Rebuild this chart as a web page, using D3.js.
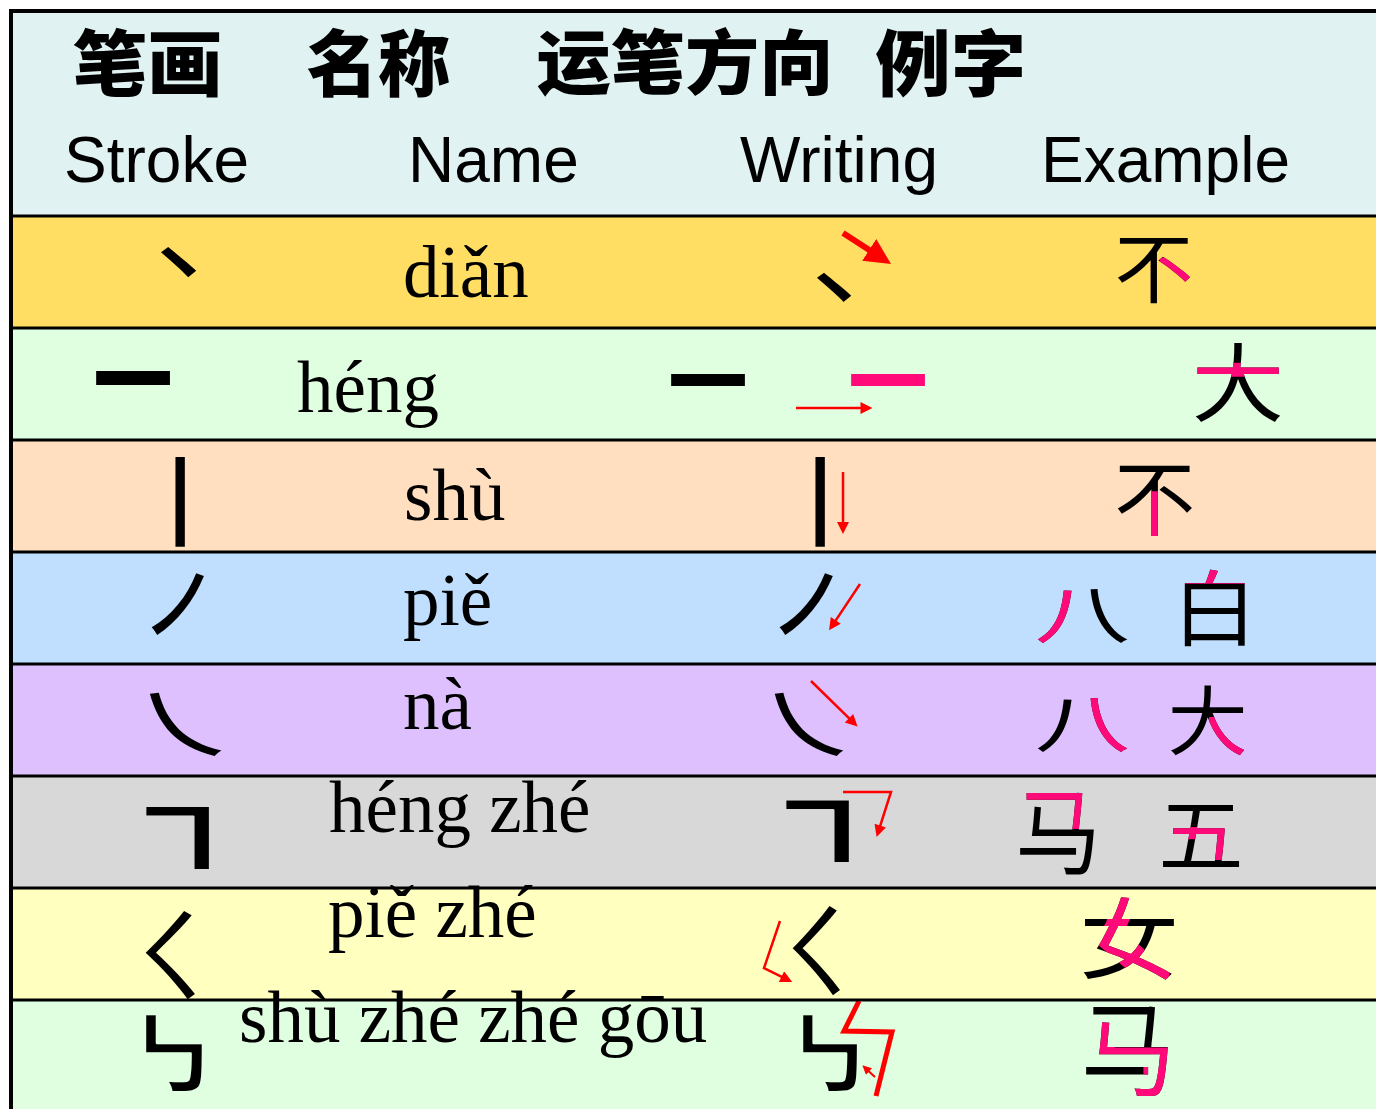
<!DOCTYPE html>
<html><head><meta charset="utf-8">
<script src="https://cdn.jsdelivr.net/npm/d3@7"></script>
<style>html,body{margin:0;padding:0;background:#fff;}svg{display:block}</style>
</head><body>
<svg id="chart" width="1376" height="1109"></svg>
<script>
// ---------------- DATA ----------------
const headersZh = ["笔画", "名称", "运笔方向", "例字"];
const headersEn = ["Stroke", "Name", "Writing", "Example"];
const strokeKeys = ["D", "H", "S", "P", "N", "HZ", "PZ", "SZZG"];
const strokeGlyphs = ["㇔", "㇐", "㇑", "㇒", "㇏", "㇕", "㇛", "㇉"];
const pinyinNames = ["diǎn", "héng", "shù", "piě", "nà", "héng zhé", "piě zhé", "shù zhé zhé gōu"];
const exampleChars = [["不"], ["大"], ["不"], ["八", "白"], ["八", "大"], ["马", "五"], ["女"], ["马"]];
const rowColors = ["#FFDE63", "#E0FEE0", "#FFDFC0", "#C0DFFE", "#DFC0FE", "#D8D8D8", "#FFFFC0", "#E0FEE0"];

// ---------------- LAYOUT / STYLE ----------------
const W = 1376, H = 1109;
const CJK = '"Noto Sans CJK SC"';
const headerBg = "#E1F2F3";
const pink = "#FF0A78";
const red = "#FF0000";
const strokeWeights = [700, 700, 400, 400, 400, 700, 400, 700];
const strokeThin = [0, 0, 0, 0, 0, 2.5, 0, 2.5];   // erosion (px) to thin the heavier stroke glyphs
const layout = {
  zhBox: [[74, 219, 28, 97], [308, 449, 28, 97], [538, 828, 28, 97], [876, 1022, 28, 97]],
  enX: [64, 408, 740, 1041], enBase: 182, enSize: 64,
  strokeBox: [[161,196,31,61],[96,170,44,58],[175,185,17,107],[152,204,22,84],[150,221,28,91],[146,209,31,93],[146,195,23,111],[146,202,16,91]],
  writeBox: [[817,851,56,85],[671,745,46,58],[815,825,17,107],[780,833,22,84],[775,843,28,91],[786,849,25,86],[793,840,18,107],[803,857,16,91]],
  pinkBar: {row: 1, box: [851, 925, 46, 58]},
  nameX: [403, 297, 404, 403, 403, 329, 328, 239],
  nameBase: [81, 84, 80, 73, 65, 56, 49, 42],
  exBox: [[[1118,1190,22,87]],[[1196,1280,16,94]],[[1118,1192,26,96]],[[1038,1127,37,91],[1185,1245,18,94]],
          [[1038,1127,34,88],[1171,1244,22,91]],[[1020,1094,17,99],[1163,1239,29,90]],[[1084,1174,9,91]],[[1086,1168,7,97]]]
};
const guides = [
  {row:0, pts:[[843,17],[891,48]], w:6, head:[26,26]},
  {row:1, pts:[[796,80],[875,80]], w:2.5, head:[17,12]},
  {row:2, pts:[[843,32],[843,96]], w:2.5, head:[16,12]},
  {row:3, pts:[[860,32],[828,80]], w:2.5, head:[16,12]},
  {row:4, pts:[[811,17],[859,64]], w:2.5, head:[16,12]},
  {row:5, pts:[[843,16],[891,16],[876,63]], w:2.5, head:[16,12]},
  {row:6, pts:[[780,33],[764,80],[794,95]], w:2.5, head:[16,12]},
  {row:7, pts:[[859,1],[844,31],[892,32],[876,96]], w:5, head:null},
  {row:7, pts:[[875,77],[862,65]], w:2, head:[10,9]}
];
const clipShapes = {
  "不D": [[0.58,0.3],[1,0.3],[1,1],[0.58,1]],
  "大H": [[0,0.24],[1,0.24],[1,0.42],[0,0.42]],
  "不S": [[0.42,0.36],[0.6,0.36],[0.6,1],[0.42,1]],
  "八P": [[0,0],[0.45,0],[0.45,1],[0,1]],
  "白P": [[0,0],[1,0],[1,0.18],[0,0.18]],
  "八N": [[0.45,0],[1,0],[1,1],[0.45,1]],
  "大N": [[0.52,0.45],[1,0.45],[1,1],[0.52,1]],
  "马HZ": [[0,0],[0.9,0],[0.9,0.44],[0.55,0.44],[0.55,0.17],[0,0.17]],
  "五HZ": [[0.12,0.36],[0.92,0.36],[0.92,0.9],[0.68,0.9],[0.68,0.56],[0.12,0.56]],
  "女PZ": [[0.3,0],[0.62,0],[0.45,0.42],[0.95,0.92],[0.95,1],[0.6,1],[0.12,0.55],[0.25,0.3]],
  "马SZZG": [[0.05,0.17],[0.35,0.17],[0.35,0.45],[1,0.45],[1,1],[0.45,1],[0.45,0.85],[0.7,0.85],[0.7,0.64],[0.05,0.64]]
};

// ---------------- DRAWING ----------------
const svg = d3.select("#chart");
const defs = svg.append("defs");
const y = d3.scaleBand().domain(strokeKeys).range([216, 1112]);

const cv = document.createElement("canvas");
cv.width = 1700; cv.height = 420;
const ctx = cv.getContext("2d", {willReadFrequently: true});
function ink(text, weight, family, size) {
  ctx.clearRect(0, 0, cv.width, cv.height);
  ctx.font = `${weight} ${size}px ${family}`;
  ctx.fillStyle = "#000"; ctx.textBaseline = "alphabetic"; ctx.textAlign = "left";
  const ox = 20, oy = 300;
  ctx.fillText(text, ox, oy);
  const d = ctx.getImageData(0, 0, cv.width, cv.height).data;
  let x0 = 1e9, x1 = -1, y0 = 1e9, y1 = -1;
  for (let yy = 0; yy < cv.height; yy++) {
    for (let xx = 0; xx < cv.width; xx++) {
      if (d[(yy * cv.width + xx) * 4 + 3] > 90) {
        if (xx < x0) x0 = xx; if (xx > x1) x1 = xx;
        if (yy < y0) y0 = yy; if (yy > y1) y1 = yy;
      }
    }
  }
  if (x1 < 0) return {x0: 0, x1: size, y0: -0.88 * size, y1: 0.12 * size};
  return {x0: x0 - ox, x1: x1 + 1 - ox, y0: y0 - oy, y1: y1 + 1 - oy};
}
function fitText(g, text, box, opt) {
  const size = 200, weight = opt.weight || 400, family = opt.family || CJK;
  const b = ink(text, weight, family, size);
  const e = (opt.erode || 0) / 2;
  const sx = (box[1] - box[0] + 2 * e) / (b.x1 - b.x0), sy = (box[3] - box[2] + 2 * e) / (b.y1 - b.y0);
  const tx = box[0] - e - b.x0 * sx, ty = box[2] - e - b.y0 * sy;
  const t = g.append("text")
    .attr("transform", `translate(${tx},${ty}) scale(${sx},${sy})`)
    .attr("font-family", family + ", sans-serif")
    .attr("font-size", size).attr("font-weight", weight)
    .attr("fill", opt.fill || "#000").text(text);
  if (opt.erode) {
    t.attr("stroke", opt.bg).attr("stroke-width", opt.erode)
      .attr("vector-effect", "non-scaling-stroke").attr("stroke-linejoin", "round")
      .style("paint-order", "fill stroke");
  }
  return t;
}

// backgrounds
svg.append("rect").attr("x", 0).attr("y", 0).attr("width", W).attr("height", H).attr("fill", "#fff");
svg.append("rect").attr("x", 11).attr("y", 11).attr("width", W - 11).attr("height", 216 - 11).attr("fill", headerBg);
svg.selectAll("rect.row").data(strokeKeys).join("rect").attr("class", "row")
  .attr("x", 11).attr("y", d => y(d)).attr("width", W - 11).attr("height", y.bandwidth())
  .attr("fill", (d, i) => rowColors[i]);

// header
const hg = svg.append("g");
headersZh.forEach((t, i) => fitText(hg, t, layout.zhBox[i], {weight: 900}));
hg.selectAll("text.en").data(headersEn).join("text").attr("class", "en")
  .attr("x", (d, i) => layout.enX[i]).attr("y", layout.enBase)
  .attr("font-family", '"Liberation Sans", Arial, sans-serif').attr("font-size", layout.enSize).attr("fill", "#000")
  .text(d => d);

// rows
const rg = svg.append("g");
strokeKeys.forEach((k, i) => {
  const top = y(k);
  const g = rg.append("g");
  const sOpt = {weight: strokeWeights[i], erode: strokeThin[i], bg: rowColors[i]};
  const sb = layout.strokeBox[i];
  fitText(g, strokeGlyphs[i], [sb[0], sb[1], top + sb[2], top + sb[3]], sOpt);
  const wb = layout.writeBox[i];
  fitText(g, strokeGlyphs[i], [wb[0], wb[1], top + wb[2], top + wb[3]], sOpt);
  if (layout.pinkBar.row === i) {
    const pb = layout.pinkBar.box;
    fitText(g, strokeGlyphs[i], [pb[0], pb[1], top + pb[2], top + pb[3]], {weight: strokeWeights[i], fill: pink});
  }
  g.append("text").attr("x", layout.nameX[i]).attr("y", top + layout.nameBase[i])
    .attr("font-family", '"Liberation Serif", "Times New Roman", serif').attr("font-size", 73)
    .attr("fill", "#000").text(pinyinNames[i]);
  exampleChars[i].forEach((ch, j) => {
    const eb = layout.exBox[i][j];
    const box = [eb[0], eb[1], top + eb[2], top + eb[3]];
    fitText(g, ch, box, {weight: 400});
    const poly = clipShapes[ch + k];
    if (poly) {
      const id = `clip${i}_${j}`;
      defs.append("clipPath").attr("id", id).attr("clipPathUnits", "userSpaceOnUse")
        .append("polygon").attr("points", poly.map(p => [box[0] + p[0] * (box[1] - box[0]), box[2] + p[1] * (box[3] - box[2])].join(",")).join(" "));
      const pg = g.append("g").attr("clip-path", `url(#${id})`);
      fitText(pg, ch, box, {weight: 400, fill: pink});
    }
  });
});

// guide arrows
const line = d3.line();
guides.forEach((gd, n) => {
  const top = y(strokeKeys[gd.row]);
  const pts = gd.pts.map(p => [p[0], top + p[1]]);
  let id = null;
  if (gd.head) {
    const [hl, hw] = gd.head;
    const a = pts[pts.length - 2], b = pts[pts.length - 1];
    const L = Math.hypot(b[0] - a[0], b[1] - a[1]);
    const ux = (b[0] - a[0]) / L, uy = (b[1] - a[1]) / L;
    pts[pts.length - 1] = [b[0] - ux * hl * 0.5, b[1] - uy * hl * 0.5];
    id = `arrow${n}`;
    defs.append("marker").attr("id", id).attr("viewBox", "0 0 10 10")
      .attr("refX", 5).attr("refY", 5).attr("markerUnits", "userSpaceOnUse")
      .attr("markerWidth", hl).attr("markerHeight", hw).attr("orient", "auto")
      .append("path").attr("d", "M0,0L10,5L0,10Z").attr("fill", red);
  }
  svg.append("path").attr("d", line(pts)).attr("fill", "none").attr("stroke", red)
    .attr("stroke-width", gd.w).attr("stroke-linejoin", "miter")
    .attr("marker-end", id ? `url(#${id})` : null);
});

// grid lines
const lg = svg.append("g").attr("stroke", "#000");
lg.selectAll("line.h").data([216].concat(strokeKeys.slice(1).map(k => y(k)))).join("line").attr("class", "h")
  .attr("x1", 11).attr("x2", W).attr("y1", d => d).attr("y2", d => d).attr("stroke-width", 3);
lg.append("line").attr("x1", 9).attr("x2", W).attr("y1", 11).attr("y2", 11).attr("stroke-width", 4);
lg.append("line").attr("x1", 11).attr("x2", 11).attr("y1", 9).attr("y2", H).attr("stroke-width", 4);
</script>
</body></html>
